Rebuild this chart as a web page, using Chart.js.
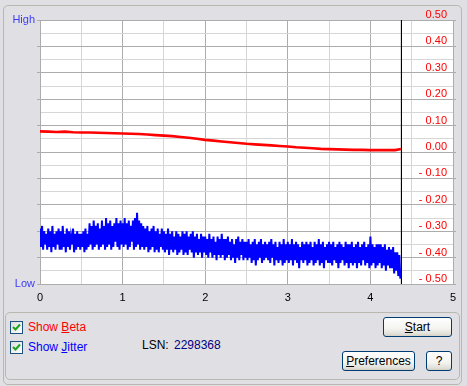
<!DOCTYPE html>
<html>
<head>
<meta charset="utf-8">
<script src="https://cdn.jsdelivr.net/npm/chart.js@4.4.1/dist/chart.umd.min.js"></script>
<style>
  body { margin: 0; background: #e0dfe3; font-family: "Liberation Sans", Arial, sans-serif; font-size: 11px; }
  #wrap { position: relative; width: 467px; height: 386px; overflow: hidden; background: #e0dfe3; }
  .box { position: absolute; border: 1px solid #b9b7b0; border-radius: 5px; }
  #plot { position: absolute; left: 0; top: 0; }
  .cb { position: absolute; width: 11px; height: 11px; border: 1px solid #1c5180; background: linear-gradient(135deg, #dcdcd7, #ffffff); }
  .cb svg { position: absolute; left: 1px; top: 1px; }
  .lbl { position: absolute; white-space: nowrap; line-height: 13px; font-size: 12px; }
  .btn { position: absolute; box-sizing: border-box; border: 1px solid #003c74; border-radius: 3px;
         background: linear-gradient(#ffffff, #f3f3ef 60%, #e3e2dc 85%, #d6d0c5); text-align: center;
         color: #000; line-height: 18px; font-size: 12px; }
  u { text-decoration: underline; }
</style>
</head>
<body>
<div id="wrap">
  <div class="box" style="left:3px;top:5px;width:457px;height:378px;"></div>
  <canvas id="plot" width="467" height="305"></canvas>
  <div class="box" style="left:5px;top:312px;width:453px;height:66px;"></div>

  <div class="cb" style="left:10px;top:321px;"><svg width="9" height="9"><path d="M1 4 L3.5 6.5 L8 1.5" stroke="#21a121" stroke-width="2" fill="none"/></svg></div>
  <div class="lbl" style="left:28px;top:321px;color:#ff0000;">Show <u>B</u>eta</div>
  <div class="cb" style="left:10px;top:341px;"><svg width="9" height="9"><path d="M1 4 L3.5 6.5 L8 1.5" stroke="#21a121" stroke-width="2" fill="none"/></svg></div>
  <div class="lbl" style="left:28px;top:341px;color:#0000ff;">Show <u>J</u>itter</div>
  <div class="lbl" style="left:142px;top:339px;color:#000;">LSN:</div>
  <div class="lbl" style="left:174px;top:339px;color:#000080;">2298368</div>

  <div class="btn" style="left:383px;top:317px;width:69px;height:20px;"><u>S</u>tart</div>
  <div class="btn" style="left:342px;top:351px;width:73px;height:20px;"><u>P</u>references</div>
  <div class="btn" style="left:426px;top:351px;width:26px;height:20px;">?</div>
</div>

<script>
// beta (red), one value every 0.1 units
const betaX = [0, 0.1, 0.2, 0.3, 0.4, 0.5, 0.6, 0.7, 0.8, 0.9, 1.0, 1.1, 1.2, 1.3, 1.4, 1.5, 1.6, 1.7, 1.8, 1.9,
               2.0, 2.1, 2.2, 2.3, 2.4, 2.5, 2.6, 2.7, 2.8, 2.9, 3.0, 3.1, 3.2, 3.3, 3.4, 3.5, 3.6, 3.7, 3.8, 3.9,
               4.0, 4.1, 4.2, 4.3, 4.37];
const betaValues = [0.078, 0.077, 0.076, 0.077, 0.075, 0.074, 0.074, 0.073, 0.072, 0.071,
                    0.070, 0.069, 0.068, 0.066, 0.064, 0.062, 0.060, 0.057, 0.054, 0.050,
                    0.046, 0.043, 0.040, 0.037, 0.034, 0.031, 0.029, 0.027, 0.025, 0.023,
                    0.021, 0.018, 0.016, 0.014, 0.012, 0.011, 0.010, 0.009, 0.008, 0.008,
                    0.007, 0.007, 0.007, 0.007, 0.011];

// jitter (blue): peak / dip per 0.025 step
const jitterStep = 0.025;
const jitterHigh = [
  -0.29,-0.28,-0.30,-0.31,-0.29,-0.30,-0.28,-0.31,-0.30,-0.29,
  -0.30,-0.28,-0.31,-0.29,-0.30,-0.32,-0.29,-0.31,-0.30,-0.31,
  -0.31,-0.30,-0.29,-0.31,-0.27,-0.28,-0.26,-0.28,-0.27,-0.29,
  -0.26,-0.28,-0.25,-0.27,-0.26,-0.28,-0.27,-0.25,-0.27,-0.26,
  -0.27,-0.25,-0.27,-0.26,-0.28,-0.26,-0.25,-0.23,-0.26,-0.27,
  -0.28,-0.29,-0.28,-0.30,-0.29,-0.28,-0.30,-0.29,-0.31,-0.29,
  -0.30,-0.31,-0.29,-0.31,-0.30,-0.32,-0.30,-0.31,-0.32,-0.30,
  -0.31,-0.30,-0.32,-0.31,-0.30,-0.32,-0.31,-0.33,-0.31,-0.32,
  -0.32,-0.33,-0.31,-0.33,-0.32,-0.34,-0.32,-0.33,-0.31,-0.33,
  -0.33,-0.32,-0.34,-0.33,-0.35,-0.33,-0.32,-0.34,-0.33,-0.34,
  -0.34,-0.33,-0.35,-0.34,-0.33,-0.35,-0.34,-0.33,-0.35,-0.34,
  -0.35,-0.34,-0.33,-0.35,-0.34,-0.36,-0.34,-0.35,-0.33,-0.35,
  -0.34,-0.35,-0.33,-0.35,-0.34,-0.35,-0.36,-0.34,-0.35,-0.34,
  -0.35,-0.34,-0.36,-0.34,-0.35,-0.33,-0.35,-0.34,-0.36,-0.35,
  -0.34,-0.35,-0.34,-0.36,-0.35,-0.34,-0.35,-0.36,-0.34,-0.35,
  -0.35,-0.34,-0.36,-0.35,-0.34,-0.36,-0.35,-0.34,-0.36,-0.35,
  -0.32,-0.35,-0.36,-0.35,-0.35,-0.35,-0.36,-0.35,-0.37,-0.36,
  -0.37,-0.36,-0.38,-0.38,-0.39
];
const jitterLow = [
  -0.36,-0.37,-0.35,-0.37,-0.36,-0.38,-0.36,-0.37,-0.35,-0.37,
  -0.37,-0.36,-0.38,-0.36,-0.37,-0.35,-0.38,-0.37,-0.36,-0.37,
  -0.36,-0.38,-0.37,-0.36,-0.35,-0.37,-0.36,-0.35,-0.37,-0.36,
  -0.35,-0.37,-0.36,-0.35,-0.37,-0.36,-0.34,-0.36,-0.37,-0.35,
  -0.36,-0.35,-0.37,-0.36,-0.34,-0.37,-0.36,-0.35,-0.37,-0.36,
  -0.37,-0.36,-0.38,-0.37,-0.36,-0.38,-0.37,-0.38,-0.36,-0.37,
  -0.38,-0.37,-0.39,-0.37,-0.38,-0.37,-0.39,-0.38,-0.37,-0.39,
  -0.38,-0.39,-0.37,-0.38,-0.40,-0.38,-0.39,-0.38,-0.40,-0.38,
  -0.39,-0.40,-0.38,-0.40,-0.39,-0.41,-0.39,-0.40,-0.39,-0.41,
  -0.40,-0.39,-0.41,-0.40,-0.42,-0.40,-0.41,-0.39,-0.41,-0.40,
  -0.41,-0.40,-0.42,-0.41,-0.43,-0.41,-0.40,-0.42,-0.41,-0.40,
  -0.41,-0.42,-0.40,-0.43,-0.41,-0.42,-0.41,-0.43,-0.42,-0.41,
  -0.42,-0.41,-0.43,-0.41,-0.42,-0.44,-0.41,-0.42,-0.41,-0.43,
  -0.42,-0.41,-0.43,-0.42,-0.41,-0.43,-0.42,-0.44,-0.41,-0.42,
  -0.42,-0.43,-0.41,-0.42,-0.44,-0.42,-0.41,-0.43,-0.42,-0.44,
  -0.42,-0.43,-0.42,-0.44,-0.42,-0.43,-0.41,-0.43,-0.42,-0.44,
  -0.43,-0.42,-0.44,-0.43,-0.42,-0.44,-0.43,-0.45,-0.43,-0.44,
  -0.44,-0.46,-0.45,-0.47,-0.48
];

const cursorPos = 4.376;
const xTicks = [0, 1, 2, 3, 4, 5];

const darkGrid = '#acacac';
const lightGrid = '#d6d6d6';

const betaData = betaX.map((x, i) => ({ x: x, y: betaValues[i] }));
const jitterData = [];
jitterHigh.forEach((h, i) => {
  jitterData.push({ x: i * jitterStep, y: h });
  jitterData.push({ x: i * jitterStep + jitterStep / 2, y: jitterLow[i] });
});

function isTenth(v) {
  return Math.abs(Math.round(v * 100)) % 10 === 0;
}
function rightLabel(v) {
  const c = Math.round(v * 100);
  if (c % 10 !== 0) return '';
  if (c < 0) return '- ' + (Math.abs(c) / 100).toFixed(2);
  return (c / 100).toFixed(2);
}

const whiteArea = {
  id: 'whiteArea',
  beforeDraw(chart) {
    const a = chart.chartArea;
    chart.ctx.save();
    chart.ctx.fillStyle = '#ffffff';
    chart.ctx.fillRect(a.left, a.top, a.right - a.left, a.bottom - a.top);
    chart.ctx.restore();
  }
};

new Chart(document.getElementById('plot'), {
  type: 'line',
  data: {
    datasets: [
      { label: 'Jitter', data: jitterData, borderColor: '#0000ff', borderWidth: 2, pointRadius: 0, tension: 0, yAxisID: 'y' },
      { label: 'Beta', data: betaData, borderColor: '#ff0000', borderWidth: 2.6, pointRadius: 0, tension: 0, yAxisID: 'y' },
      { label: 'Cursor', data: [{ x: cursorPos, y: 0.5 }, { x: cursorPos, y: -0.5 }], borderColor: '#000000', borderWidth: 1, pointRadius: 0, yAxisID: 'y' }
    ]
  },
  options: {
    responsive: false,
    animation: false,
    layout: { padding: { top: 20, left: 0, right: 0, bottom: 0 } },
    plugins: { legend: { display: false }, tooltip: { enabled: false } },
    scales: {
      x: {
        type: 'linear', min: 0, max: 5,
        afterFit(s) { s.height = 21; s.paddingLeft = 0; s.paddingRight = 0; },
        border: { color: darkGrid },
        grid: {
          color: ctx => (Math.abs(ctx.tick.value - Math.round(ctx.tick.value)) < 1e-6 ? darkGrid : lightGrid),
          tickLength: 4, tickColor: 'transparent'
        },
        ticks: {
          stepSize: 0.5, autoSkip: false, maxRotation: 0, padding: 3, color: '#000000',
          font: { family: 'Liberation Sans', size: 11 },
          callback: v => (xTicks.includes(v) ? String(v) : '')
        }
      },
      y: {
        position: 'left', min: -0.5, max: 0.5,
        afterFit(s) { s.width = 40; s.paddingTop = 0; s.paddingBottom = 0; },
        border: { color: darkGrid },
        grid: {
          color: ctx => (isTenth(ctx.tick.value) ? darkGrid : lightGrid),
          tickLength: 3,
          tickColor: ctx => (isTenth(ctx.tick.value) ? darkGrid : 'transparent')
        },
        ticks: {
          stepSize: 0.05, autoSkip: false, padding: 2, color: '#3c3cf5',
          font: { family: 'Liberation Sans', size: 11 },
          callback: v => (Math.round(v * 100) === 50 ? 'High' : Math.round(v * 100) === -50 ? 'Low' : '')
        }
      },
      y2: {
        position: 'right', min: -0.5, max: 0.5,
        afterFit(s) { s.width = 14; s.paddingTop = 0; s.paddingBottom = 0; },
        border: { color: darkGrid },
        grid: {
          drawOnChartArea: false, tickLength: 3,
          tickColor: ctx => (isTenth(ctx.tick.value) ? darkGrid : 'transparent')
        },
        ticks: {
          stepSize: 0.05, autoSkip: false, mirror: true, padding: -6, labelOffset: -5, color: '#ff0000',
          font: { family: 'Liberation Sans', size: 11 },
          callback: v => rightLabel(v)
        }
      }
    }
  },
  plugins: [whiteArea]
});
</script>
</body>
</html>
